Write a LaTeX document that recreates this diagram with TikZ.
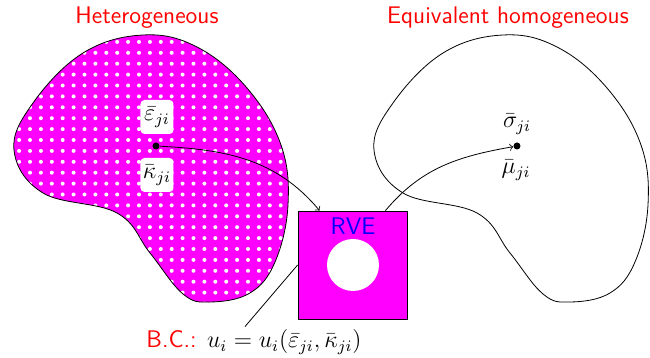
\documentclass[tikz,border=0pt]{standalone}
\usetikzlibrary{calc}
\definecolor{mag}{RGB}{255,0,255}

% outline shared by both bodies
\newcommand{\bodyshape}{plot[smooth cycle, tension=0.65] coordinates {(14,150) (43,193) (117,213) (150,253) (183,294) (210,302) (250,293) (275,262) (288,205) (281,145) (247,88) (197,47) (143,35) (83,53) (33,103)}}

\begin{document}
\begin{tikzpicture}[x=0.5pt,y=-0.5pt,font=\sffamily\large,
		pt/.style={circle, fill, inner sep=0pt, minimum size=3.5pt},
		tag/.style={fill=white, rounded corners=2pt, inner sep=1pt, minimum width=16.5pt, minimum height=17pt},
		title/.style={text=red}]
	\useasboundingbox (0,0) rectangle (650,358);

	% heterogeneous body
	\begin{scope}
		\clip \bodyshape;
		\fill[mag] \bodyshape;
		\foreach \i in {0,...,26}
			\foreach \j in {0,...,25}
				\fill[white] (8.2+10.9*\i,31+10.9*\j) circle (2);
	\end{scope}
	\draw \bodyshape;
	% equivalent body
	\begin{scope}[shift={(360,0)}]
		\draw \bodyshape;
	\end{scope}

	\node[title] (het) at (147,18) {Heterogeneous};
	\node[title] (hom) at (508,18) {Equivalent homogeneous};

	\node[pt] (micro) at (156,146) {};
	\node[tag] (eps) at (157,117) {$\bar\varepsilon_{ji}$};
	\node[tag] (kap) at (157,175) {$\bar\kappa_{ji}$};

	\node[pt] (macro) at (517,146) {};
	\node (sig) at (517,124) {$\bar\sigma_{ji}$};
	\node (mu) at (516,170) {$\bar\mu_{ji}$};

	% volume element
	\node[draw, fill=mag, minimum width=54.5pt, minimum height=54pt, inner sep=0pt] (rve) at (352.5,265) {};
	\node[circle, fill=white, minimum size=26pt, inner sep=0pt] (hole) at (353,265) {};
	\node[text=blue] (rvelbl) at (353,226) {RVE};

	\node (bc) at (254,342) {\textcolor{red}{B.C.:} $u_i = u_i(\bar\varepsilon_{ji},\bar\kappa_{ji})$};

	\draw[->] (micro) to[out=-3,in=130] ($(rve.north west)!0.2!(rve.north east)$);
	\draw[->] ($(rve.north west)!0.8!(rve.north east)$) to[out=50,in=190] (macro);
	\draw ($(bc.north)+(-9,4)$) -- (rve.west);
\end{tikzpicture}
\end{document}
